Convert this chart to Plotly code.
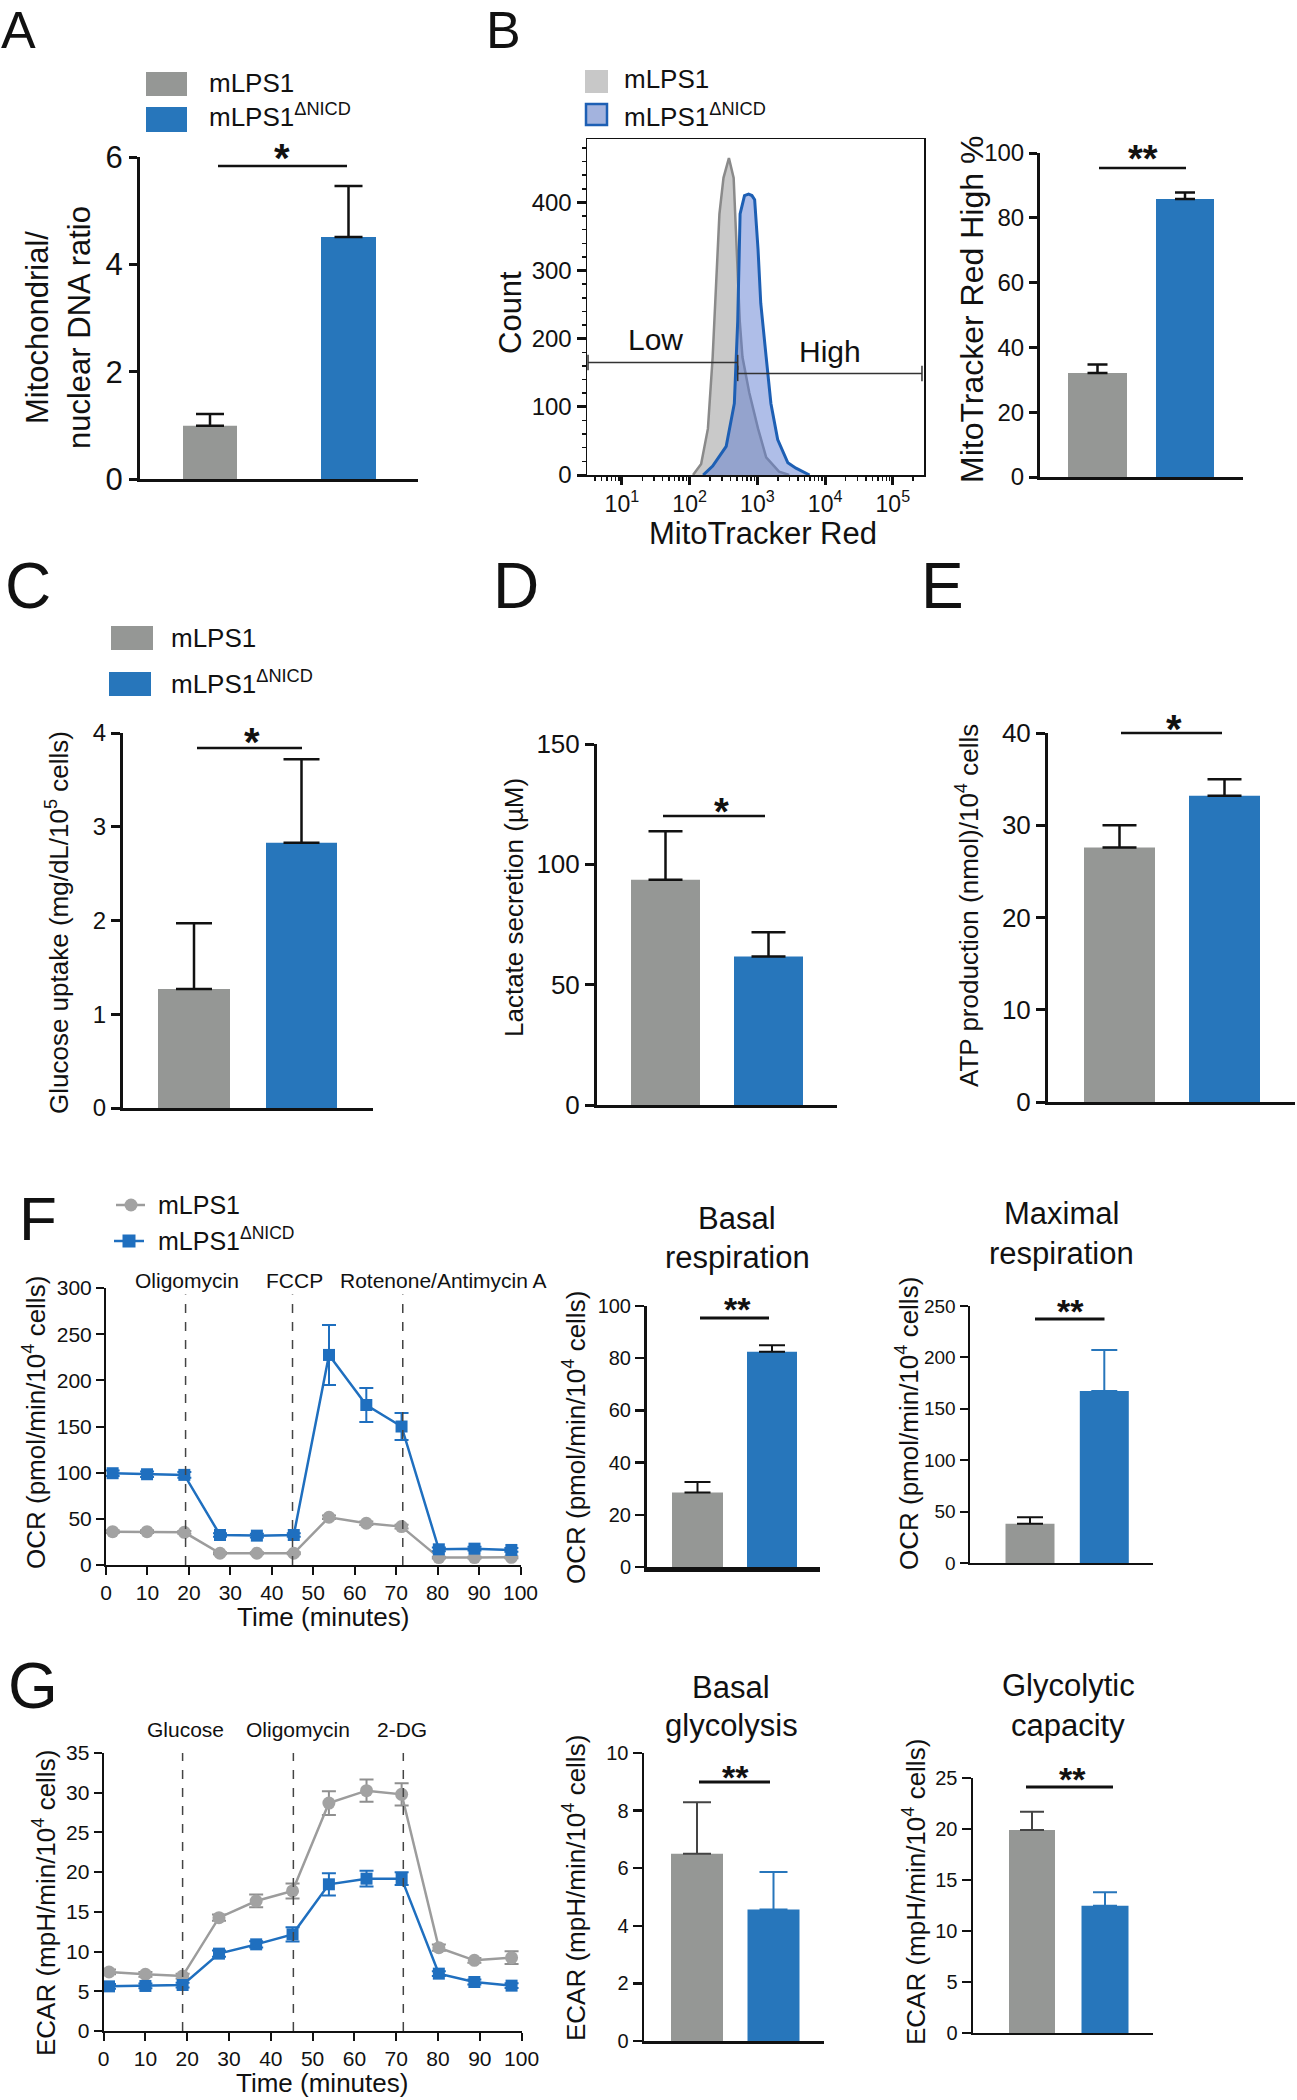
import numpy as np
import plotly.graph_objects as go

W, H = 1297, 2100
FONT = "Liberation Sans, Arial, Helvetica, sans-serif"
INK = "#111111"
GRAY = "#959795"
BLUE = "#2776bb"
LINE_GRAY = "#9c9c9c"
LINE_BLUE = "#1f6fbf"

# ---------------- data ----------------
group_labels = ["mLPS1", "mLPS1<sup>ΔNICD</sup>"]

# A: mitochondrial / nuclear DNA ratio
mtdna_ratio = [0.99, 4.51]
mtdna_ratio_sem = [0.22, 0.95]

# B: MitoTracker Red histogram (log10 intensity, count)
hist_gray_log10 = [2.05, 2.17, 2.27, 2.34, 2.39, 2.44, 2.50, 2.58, 2.65, 2.70, 2.74, 2.78, 2.88, 3.01, 3.13, 3.32, 3.47]
hist_gray_count = [0, 16, 68, 173, 278, 383, 436, 465, 436, 331, 226, 173, 121, 68, 26, 5, 0]
hist_blue_log10 = [2.20, 2.34, 2.54, 2.66, 2.71, 2.745, 2.81, 2.87, 2.92, 2.96, 3.01, 3.05, 3.13, 3.20, 3.30, 3.45, 3.57, 3.77]
hist_blue_count = [0, 13, 42, 105, 226, 383, 410, 412, 410, 404, 331, 252, 173, 105, 52, 18, 10, 0]
gate_low_log10 = [0.5, 2.71]
gate_low_count = [165, 165]
gate_high_log10 = [2.71, 5.43]
gate_high_count = [149, 149]
hist_tick_exponents = [1, 2, 3, 4, 5]

# B: MitoTracker Red High %
mitotracker_high_pct = [32.1, 85.8]
mitotracker_high_sem = [2.6, 2.0]

# C, D, E
glucose_uptake = [1.27, 2.83]
glucose_uptake_sem = [0.70, 0.89]
lactate_secretion = [93.6, 61.7]
lactate_secretion_sem = [20.1, 10.1]
atp_production = [27.6, 33.2]
atp_production_sem = [2.4, 1.8]

# F: OCR time course
ocr_time = [1.6, 9.9, 18.9, 27.5, 36.4, 45.3, 53.8, 62.8, 71.3, 80.3, 88.9, 97.8]
ocr_gray = [36.1, 36.1, 35.4, 12.7, 12.7, 12.7, 51.7, 45.2, 41.6, 8.0, 8.0, 8.3]
ocr_gray_sem = [1.5, 1.5, 1.5, 1.0, 1.0, 1.0, 2.0, 2.0, 2.0, 1.0, 1.0, 1.0]
ocr_blue = [99.4, 98.3, 97.6, 32.5, 31.8, 32.5, 227.5, 173.3, 150.0, 17.0, 17.7, 16.3]
ocr_blue_sem = [3.0, 3.0, 3.0, 2.0, 2.0, 2.0, 32.5, 18.3, 14.5, 2.0, 2.0, 2.0]
ocr_injections = ["Oligomycin", "FCCP", "Rotenone/Antimycin A"]
ocr_injection_times = [19.2, 45.0, 71.6]
basal_respiration = [28.5, 82.5]
basal_respiration_sem = [4.1, 2.5]
maximal_respiration = [38.2, 167.4]
maximal_respiration_sem = [6.2, 39.9]

# G: ECAR time course
ecar_time = [1.3, 10.0, 18.9, 27.6, 36.5, 45.2, 53.9, 62.9, 71.3, 80.2, 88.7, 97.6]
ecar_gray = [7.43, 7.13, 6.92, 14.27, 16.37, 17.63, 28.7, 30.26, 29.8, 10.49, 8.9, 9.23]
ecar_gray_sem = [0.3, 0.3, 0.3, 0.4, 0.8, 0.95, 1.5, 1.4, 1.4, 0.4, 0.3, 0.8]
ecar_blue = [5.62, 5.67, 5.79, 9.74, 10.91, 12.17, 18.47, 19.18, 19.18, 7.22, 6.17, 5.71]
ecar_blue_sem = [0.3, 0.3, 0.3, 0.4, 0.4, 0.9, 1.4, 1.0, 0.8, 0.3, 0.3, 0.3]
ecar_injections = ["Glucose", "Oligomycin", "2-DG"]
ecar_injection_times = [18.9, 45.4, 71.7]
basal_glycolysis = [6.5, 4.57]
basal_glycolysis_sem = [1.79, 1.30]
glycolytic_capacity = [19.9, 12.48]
glycolytic_capacity_sem = [1.8, 1.32]

# ---------------- helpers ----------------
fig = go.Figure()
layout = {}
annotations = []
shapes = []


def PX(x):
    return x / W


def PY(y):
    return 1 - y / H


def refs(n):
    s = "" if n == 1 else str(n)
    return "x" + s, "y" + s, "xaxis" + s, "yaxis" + s


def text(s, x, y, size, angle=0, xanchor="center", yanchor="middle", color=INK):
    annotations.append(dict(text=s, x=PX(x), y=PY(y), xref="paper", yref="paper", showarrow=False,
                            font=dict(family=FONT, size=size, color=color), textangle=angle,
                            xanchor=xanchor, yanchor=yanchor, borderpad=0))


def line(x0, y0, x1, y1, width=2.5, color=INK):
    shapes.append(dict(type="line", xref="paper", yref="paper", x0=PX(x0), y0=PY(y0), x1=PX(x1), y1=PY(y1),
                       line=dict(color=color, width=width)))


def rect(x0, y0, x1, y1, fill, border=None, bw=0):
    shapes.append(dict(type="rect", xref="paper", yref="paper", x0=PX(x0), y0=PY(y0), x1=PX(x1), y1=PY(y1),
                       fillcolor=fill, line=dict(color=border or fill, width=bw)))


def circle(cx, cy, r, fill):
    shapes.append(dict(type="circle", xref="paper", yref="paper", x0=PX(cx - r), y0=PY(cy + r),
                       x1=PX(cx + r), y1=PY(cy - r), fillcolor=fill, line=dict(color=fill, width=0)))


def sig(x0, x1, y, star, sx, sy, size, lw=2.5):
    line(x0, y, x1, y, width=lw)
    text("<b>" + star + "</b>", sx, sy + 0.21 * size, size)


def bar_panel(n, box, ymax, dtick, centers, widths, values, errors, err_colors, cap, lw,
              tick_size, ticklen=8, xline_w=None, err_th=2.5):
    xr, yr, xa, ya = refs(n)
    x0, x1, ytop, ybot = box
    unit = centers[1] - centers[0]
    xrange = [(x0 - centers[0]) / unit, (x1 - centers[0]) / unit]
    for i in range(2):
        fig.add_trace(go.Bar(
            x=[i], y=[values[i]], width=widths[i] / unit,
            marker=dict(color=[GRAY, BLUE][i], line=dict(width=0)),
            error_y=dict(type="data", array=[errors[i]], arrayminus=[0], symmetric=False,
                         color=err_colors[i], thickness=err_th, width=cap),
            xaxis=xr, yaxis=yr, showlegend=False, hoverinfo="skip"))
    layout[xa] = dict(domain=[PX(x0), PX(x1)], range=xrange, type="linear", anchor=yr, showline=True,
                      linewidth=xline_w or lw, linecolor=INK, showticklabels=False, ticks="",
                      showgrid=False, zeroline=False, automargin=False)
    layout[ya] = dict(domain=[PY(ybot), PY(ytop)], range=[0, ymax], anchor=xr, tick0=0, dtick=dtick,
                      showline=True, linewidth=lw, linecolor=INK, ticks="outside", ticklen=ticklen,
                      tickwidth=lw, tickcolor=INK, showgrid=False, zeroline=False, automargin=False,
                      tickfont=dict(family=FONT, size=tick_size, color=INK))


def line_panel(n, box, ymax, ydtick, time, gray, gray_err, blue, blue_err, inj_times, inj_top):
    xr, yr, xa, ya = refs(n)
    x0, x1, ytop, ybot = box
    fig.add_trace(go.Scatter(
        x=time, y=gray, mode="lines+markers", line=dict(color=LINE_GRAY, width=2.5),
        marker=dict(symbol="circle", size=13, color="#a2a2a2"),
        error_y=dict(type="data", array=gray_err, color="#8f8f8f", thickness=2, width=7),
        xaxis=xr, yaxis=yr, showlegend=False, cliponaxis=False, hoverinfo="skip"))
    fig.add_trace(go.Scatter(
        x=time, y=blue, mode="lines+markers", line=dict(color=LINE_BLUE, width=2.5),
        marker=dict(symbol="square", size=12, color=LINE_BLUE),
        error_y=dict(type="data", array=blue_err, color=LINE_BLUE, thickness=2, width=7),
        xaxis=xr, yaxis=yr, showlegend=False, cliponaxis=False, hoverinfo="skip"))
    common = dict(showline=True, linewidth=2, linecolor=INK, ticks="outside", ticklen=8, tickwidth=2,
                  tickcolor=INK, showgrid=False, zeroline=False, automargin=False,
                  tickfont=dict(family=FONT, size=21, color=INK))
    layout[xa] = dict(domain=[PX(x0), PX(x1)], range=[0, 100], tick0=0, dtick=10, anchor=yr, **common)
    layout[ya] = dict(domain=[PY(ybot), PY(ytop)], range=[0, ymax], tick0=0, dtick=ydtick, anchor=xr, **common)
    for t in inj_times:
        shapes.append(dict(type="line", xref=xr, yref=yr, x0=t, x1=t, y0=0, y1=inj_top,
                           line=dict(color="#444444", width=1.5, dash="dash")))


# ---------------- Panel A ----------------
bar_panel(1, (140, 418, 157, 479), 6, 2, (210, 348.5), (54, 55), mtdna_ratio, mtdna_ratio_sem,
          [INK, INK], 14, 3, 31, ticklen=8)
text("A", 0, 30, 52, xanchor="left")
rect(146, 72, 187, 96, GRAY)
rect(146, 107, 187, 132, BLUE)
text(group_labels[0], 208, 83, 26, xanchor="left")
text(group_labels[1], 208, 116, 26, xanchor="left")
text("Mitochondrial/", 37, 328, 31, angle=-90)
text("nuclear DNA ratio", 79, 328, 31, angle=-90)
sig(218, 347, 166, "*", 282, 150, 40)

# ---------------- Panel B histogram ----------------
xr, yr, xa, ya = refs(2)
fig.add_trace(go.Scatter(x=np.power(10.0, hist_gray_log10), y=hist_gray_count, mode="lines", fill="tozeroy",
                         fillcolor="#c9c9c9", line=dict(color="#8a8a8a", width=2.5),
                         xaxis=xr, yaxis=yr, showlegend=False, hoverinfo="skip"))
fig.add_trace(go.Scatter(x=np.power(10.0, hist_blue_log10), y=hist_blue_count, mode="lines", fill="tozeroy",
                         fillcolor="rgba(95,125,210,0.5)", line=dict(color="#1d5fb4", width=3),
                         xaxis=xr, yaxis=yr, showlegend=False, hoverinfo="skip"))
for gx, gy in ((gate_low_log10, gate_low_count), (gate_high_log10, gate_high_count)):
    fig.add_trace(go.Scatter(x=np.power(10.0, gx), y=gy, mode="lines+markers",
                             line=dict(color="#333333", width=1.5),
                             marker=dict(symbol="line-ns-open", size=11, line=dict(color="#333333", width=1.5)),
                             xaxis=xr, yaxis=yr, showlegend=False, hoverinfo="skip", cliponaxis=False))
minor_vals = [k * 10.0 ** d for d in range(0, 6) for k in range(2, 10)]
layout[xa] = dict(domain=[PX(587), PX(924)], type="log", range=[0.485, 5.46], anchor=yr,
                  showline=True, mirror=True, linewidth=1.5, linecolor=INK, ticks="outside",
                  tickvals=[10.0 ** e for e in hist_tick_exponents],
                  ticktext=["10<sup>%d</sup>" % e for e in hist_tick_exponents],
                  ticklen=8, tickwidth=3, tickcolor=INK, showgrid=False, zeroline=False, automargin=False,
                  tickfont=dict(family=FONT, size=23, color=INK),
                  minor=dict(tickmode="array", tickvals=minor_vals, ticks="outside", ticklen=4,
                             tickwidth=1.5, tickcolor=INK, showgrid=False))
layout[ya] = dict(domain=[PY(475), PY(139)], range=[0, 493], anchor=xr, tick0=0, dtick=100,
                  showline=True, mirror=True, linewidth=1.5, linecolor=INK, ticks="outside",
                  ticklen=9, tickwidth=3, tickcolor=INK, showgrid=False, zeroline=False, automargin=False,
                  tickfont=dict(family=FONT, size=24, color=INK),
                  minor=dict(tick0=0, dtick=20, ticks="outside", ticklen=4, tickwidth=1.5,
                             tickcolor=INK, showgrid=False))
text("B", 485, 30, 52, xanchor="left")
rect(585, 70, 608, 93, "#c8c8c8")
rect(586, 104, 607, 125, "#a3b3de", border="#1d5fb4", bw=2.5)
text(group_labels[0], 623, 79, 26, xanchor="left")
text(group_labels[1], 623, 115, 26, xanchor="left")
text("Count", 510, 313, 31, angle=-90)
text("MitoTracker Red", 763, 533, 31)
text("Low", 655, 339, 30)
text("High", 830, 352, 30)

# ---------------- Panel B bar ----------------
bar_panel(3, (1040, 1243, 153, 477), 100, 20, (1097.5, 1185), (59, 58), mitotracker_high_pct,
          mitotracker_high_sem, [INK, INK], 10, 3, 24, ticklen=8)
text("MitoTracker Red High %", 972, 310, 32, angle=-90)
sig(1099, 1186, 168, "**", 1143, 151, 38)

# ---------------- Panel C ----------------
bar_panel(4, (123, 373, 733, 1108), 4, 1, (194, 301.5), (72, 71), glucose_uptake, glucose_uptake_sem,
          [INK, INK], 18, 3, 24, ticklen=9)
text("C", 4, 586, 64, xanchor="left")
rect(111, 626, 153, 650, GRAY)
rect(109, 672, 151, 696, BLUE)
text(group_labels[0], 170, 638, 26, xanchor="left")
text(group_labels[1], 170, 682, 26, xanchor="left")
text("Glucose uptake (mg/dL/10<sup>5</sup> cells)", 57, 923, 26, angle=-90)
sig(197, 302, 748, "*", 252, 734, 40)

# ---------------- Panel D ----------------
bar_panel(5, (597, 837, 744, 1105), 150, 50, (665.5, 768.5), (69, 69), lactate_secretion,
          lactate_secretion_sem, [INK, INK], 17, 3, 26, ticklen=9)
text("D", 492, 586, 64, xanchor="left")
text("Lactate secretion (µM)", 514, 908, 26, angle=-90)
sig(663, 765, 816, "*", 721, 804, 38)

# ---------------- Panel E ----------------
bar_panel(6, (1048, 1295, 733, 1102), 40, 10, (1119.5, 1224.5), (71, 71), atp_production,
          atp_production_sem, [INK, INK], 17, 3, 26, ticklen=9)
text("E", 920, 586, 64, xanchor="left")
text("ATP production (nmol)/10<sup>4</sup> cells", 967, 906, 26, angle=-90)
sig(1121, 1222, 733, "*", 1174, 721, 40)

# ---------------- Panel F ----------------
line_panel(7, (106, 520.5, 1288, 1565), 300, 50, ocr_time, ocr_gray, ocr_gray_sem, ocr_blue, ocr_blue_sem,
           ocr_injection_times, 293)
text("F", 18, 1218, 62, xanchor="left")
line(116, 1205, 145, 1205, width=2.5, color=LINE_GRAY)
circle(131, 1205, 6.5, "#a2a2a2")
line(114, 1241, 144, 1241, width=2.5, color=LINE_BLUE)
rect(122.5, 1234.5, 135.5, 1247.5, LINE_BLUE)
text(group_labels[0], 157, 1205, 25, xanchor="left")
text(group_labels[1], 157, 1239, 25, xanchor="left")
for lbl, cx in zip(ocr_injections, (187, 294, 443)):
    text(lbl, cx, 1280, 21)
text("OCR (pmol/min/10<sup>4</sup> cells)", 34, 1423, 26, angle=-90)
text("Time (minutes)", 323, 1617, 26)

bar_panel(8, (646.5, 820, 1306, 1567), 100, 20, (697.5, 772), (51, 50), basal_respiration,
          basal_respiration_sem, [INK, INK], 13, 2.5, 20, ticklen=9, xline_w=4.5, err_th=2)
text("Basal", 737, 1218, 31)
text("respiration", 737, 1257, 31)
text("OCR (pmol/min/10<sup>4</sup> cells)", 574, 1438, 26, angle=-90)
sig(700, 769, 1318, "**", 737, 1302, 34, lw=3)

bar_panel(9, (969.5, 1153, 1306, 1563), 250, 50, (1030, 1104.3), (49, 49), maximal_respiration,
          maximal_respiration_sem, [INK, BLUE], 13, 2, 19, ticklen=8, err_th=2)
text("Maximal", 1061, 1213, 31)
text("respiration", 1061, 1253, 31)
text("OCR (pmol/min/10<sup>4</sup> cells)", 907, 1424, 26, angle=-90)
sig(1035, 1104.5, 1319, "**", 1070, 1304, 34, lw=3)

# ---------------- Panel G ----------------
line_panel(10, (103.6, 521.6, 1753, 2031), 35, 5, ecar_time, ecar_gray, ecar_gray_sem, ecar_blue, ecar_blue_sem,
           ecar_injection_times, 35)
text("G", 7, 1686, 64, xanchor="left")
for lbl, cx in zip(ecar_injections, (185, 298, 402)):
    text(lbl, cx, 1729, 21)
text("ECAR (mpH/min/10<sup>4</sup> cells)", 44, 1903, 26, angle=-90)
text("Time (minutes)", 322, 2083, 26)

bar_panel(11, (644, 824, 1753, 2041), 10, 2, (697, 773.5), (52, 52), basal_glycolysis,
          basal_glycolysis_sem, ["#444444", BLUE], 14, 2.5, 20, ticklen=9, err_th=2)
text("Basal", 731, 1687, 31)
text("glycolysis", 731, 1725, 31)
text("ECAR (mpH/min/10<sup>4</sup> cells)", 574, 1888, 26, angle=-90)
sig(699, 770, 1782, "**", 735, 1770, 34, lw=3)

bar_panel(12, (972.5, 1153, 1778, 2033), 25, 5, (1032, 1105), (46, 47), glycolytic_capacity,
          glycolytic_capacity_sem, ["#444444", BLUE], 12, 2, 20, ticklen=9, err_th=2)
text("Glycolytic", 1068, 1685, 31)
text("capacity", 1068, 1725, 31)
text("ECAR (mpH/min/10<sup>4</sup> cells)", 914, 1892, 26, angle=-90)
sig(1026, 1113, 1787, "**", 1072, 1772, 34, lw=3)

fig.update_layout(
    template="none",
    width=W, height=H, margin=dict(l=0, r=0, t=0, b=0, pad=0, autoexpand=False),
    paper_bgcolor="white", plot_bgcolor="rgba(0,0,0,0)",
    barmode="overlay", showlegend=False,
    font=dict(family=FONT, color=INK),
    annotations=annotations, shapes=shapes, **layout)

fig.write_html("out.html", config={"displayModeBar": False, "staticPlot": True},
               post_script="document.body.style.margin='0px';document.body.style.padding='0px';"
                           "document.body.style.overflow='hidden';")
